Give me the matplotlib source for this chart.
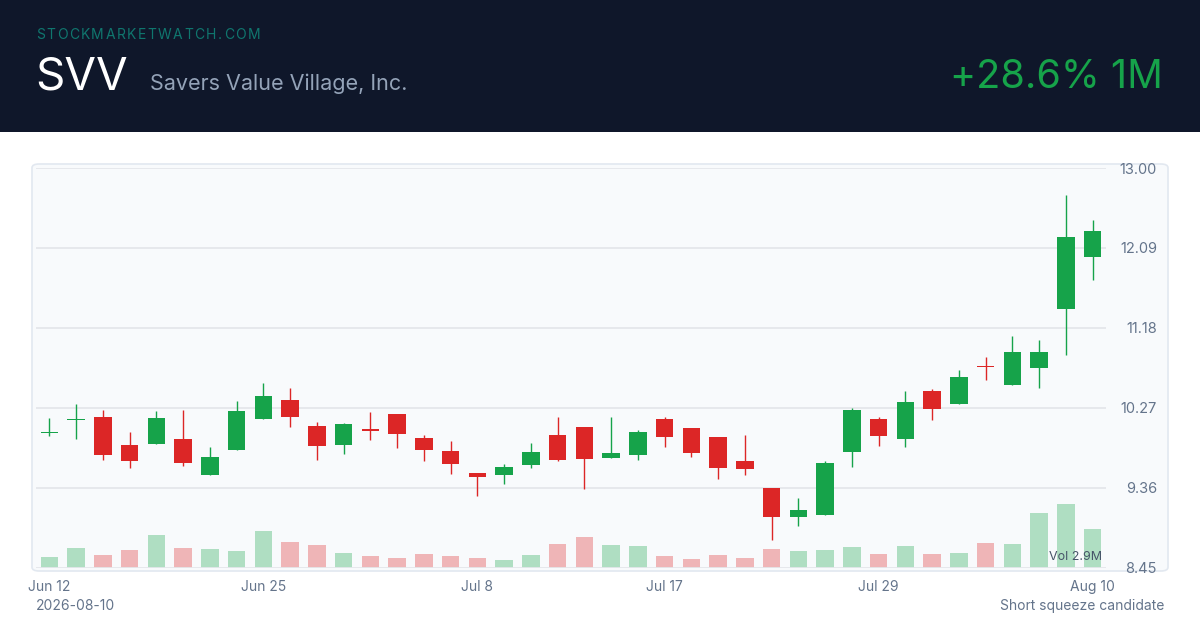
import matplotlib
matplotlib.use("Agg")
import matplotlib.pyplot as plt
from matplotlib.patches import Rectangle, FancyBboxPatch

plt.rcParams["font.family"] = ["Inter", "DejaVu Sans"]

# daily OHLC + volume (millions), 40 sessions
opens = [9.98, 10.13, 10.16, 9.85, 9.86, 9.92, 9.51, 9.79, 10.14, 10.36,
         10.06, 9.85, 10.02, 10.20, 9.93, 9.78, 9.53, 9.50, 9.62, 9.96,
         10.05, 9.70, 9.73, 10.14, 10.04, 9.94, 9.66, 9.36, 9.03, 9.05,
         9.77, 10.14, 9.91, 10.46, 10.31, 10.74, 10.53, 10.72, 11.40, 11.99]
highs = [10.15, 10.31, 10.25, 10.00, 10.23, 10.24, 9.82, 10.35, 10.55, 10.50,
         10.11, 10.10, 10.22, 10.20, 9.96, 9.89, 9.53, 9.63, 9.87, 10.16,
         10.05, 10.17, 10.02, 10.16, 10.04, 9.94, 9.96, 9.36, 9.24, 9.66,
         10.27, 10.17, 10.46, 10.48, 10.70, 10.85, 11.09, 11.04, 12.69, 12.41]
lows = [9.95, 9.91, 9.68, 9.58, 9.86, 9.61, 9.51, 9.79, 10.14, 10.05,
        9.68, 9.74, 9.90, 9.81, 9.66, 9.52, 9.27, 9.40, 9.58, 9.67,
        9.35, 9.70, 9.68, 9.82, 9.71, 9.46, 9.50, 8.76, 8.93, 9.05,
        9.60, 9.84, 9.82, 10.13, 10.31, 10.59, 10.53, 10.50, 10.87, 11.73]
closes = [9.99, 10.14, 9.73, 9.66, 10.15, 9.64, 9.71, 10.23, 10.41, 10.16,
          9.84, 10.09, 10.01, 9.97, 9.79, 9.63, 9.48, 9.60, 9.77, 9.68,
          9.69, 9.76, 9.99, 9.94, 9.76, 9.58, 9.57, 9.03, 9.11, 9.64,
          10.24, 9.95, 10.34, 10.26, 10.62, 10.73, 10.90, 10.91, 12.21, 12.28]
volumes = [0.82, 1.48, 0.93, 1.30, 2.47, 1.45, 1.42, 1.23, 2.73, 1.90,
           1.70, 1.08, 0.85, 0.73, 1.05, 0.90, 0.75, 0.60, 0.97, 1.80,
           2.28, 1.70, 1.63, 0.90, 0.63, 0.93, 0.75, 1.42, 1.27, 1.30,
           1.57, 1.00, 1.65, 1.03, 1.12, 1.87, 1.80, 4.12, 4.79, 2.90]

date_ticks = [0, 8, 16, 23, 31, 39]
date_labels = ["Jun 12", "Jun 25", "Jul 8", "Jul 17", "Jul 29", "Aug 10"]
price_ticks = [8.45, 9.36, 10.27, 11.18, 12.09, 13.00]

ticker = "SVV"
company = "Savers Value Village, Inc."
change_text = "+28.6% 1M"

GREEN = "#16a34a"
RED = "#dc2626"
GREY = "#64748b"

W, H = 1200, 630
fig = plt.figure(figsize=(12, 6.3), dpi=100, facecolor="white")

def fx(px):
    return px / W

def fy(py):
    return 1 - py / H

# header band
fig.patches.append(Rectangle((0, fy(132)), 1, 132 / H, transform=fig.transFigure,
                             facecolor="#0f172a", edgecolor="none", zorder=-2))
# chart panel
fig.patches.append(FancyBboxPatch((fx(32), fy(571)), fx(1136), 407 / H,
                                  boxstyle="round,pad=0,rounding_size=0.006",
                                  transform=fig.transFigure, facecolor="#f8fafc",
                                  edgecolor="#e2e8f0", lw=1.2, zorder=-2))

# brand text with letter spacing
renderer = fig.canvas.get_renderer()
brand = "STOCKMARKETWATCH.COM"
x = fx(36)
for ch in brand:
    t = fig.text(x, fy(35), ch, color="#0f766e", fontsize=10, va="center", ha="left")
    w = t.get_window_extent(renderer).width
    x += (w + 1.5) / W

fig.text(fx(35), fy(77), ticker, color="white", fontsize=33, va="center", ha="left")
fig.text(fx(150), fy(84), company, color="#94a3b8", fontsize=15.5, va="center", ha="left")
fig.text(fx(1163), fy(77), change_text, color=GREEN, fontsize=28.5, va="center", ha="right")

fig.text(fx(36), fy(606), "2026-08-10", color=GREY, fontsize=10, va="center", ha="left")
fig.text(fx(1164), fy(606), "Short squeeze candidate", color=GREY, fontsize=10,
         va="center", ha="right")

# price axes
ax = fig.add_axes([fx(36), fy(567.7), fx(1106 - 36), (567.7 - 168) / H])
axv = ax.twinx()
ax.set_zorder(axv.get_zorder() + 1)
ax.patch.set_visible(False)

idx = list(range(len(opens)))
up = [c >= o for o, c in zip(opens, closes)]
cols = [GREEN if u else RED for u in up]

axv.bar(idx, volumes, width=0.65, color=cols, alpha=0.32, linewidth=0)
axv.set_ylim(0, max(volumes) / 0.16)
axv.axis("off")

bottoms = [min(o, c) for o, c in zip(opens, closes)]
heights = [max(abs(c - o), 0.014) for o, c in zip(opens, closes)]
ax.vlines(idx, lows, highs, colors=cols, linewidth=1.0, zorder=2)
ax.bar(idx, heights, bottom=bottoms, width=0.66, color=cols, linewidth=0, zorder=3)

ax.set_xlim(-0.5, 39.5)
ax.set_ylim(8.45, 13.00)
ax.set_yticks(price_ticks)
ax.set_yticklabels([f"{p:.2f}" for p in price_ticks])
ax.yaxis.tick_right()
ax.tick_params(axis="y", length=0, pad=36.7, labelsize=10.5, labelcolor=GREY)
for lab in ax.get_yticklabels():
    lab.set_ha("right")
ax.set_xticks(date_ticks)
ax.set_xticklabels(date_labels)
ax.tick_params(axis="x", length=0, pad=9, labelsize=10, labelcolor=GREY)
ax.grid(axis="y", color="#e5e7eb", linewidth=1.3)
ax.set_axisbelow(True)
for s in ax.spines.values():
    s.set_visible(False)

ax.text(0.996, 0.028, f"Vol {volumes[-1]:.1f}M", transform=ax.transAxes, ha="right",
        va="center", fontsize=9, color="#475569", zorder=5)

fig.savefig("out.png", dpi=100, facecolor="white")
